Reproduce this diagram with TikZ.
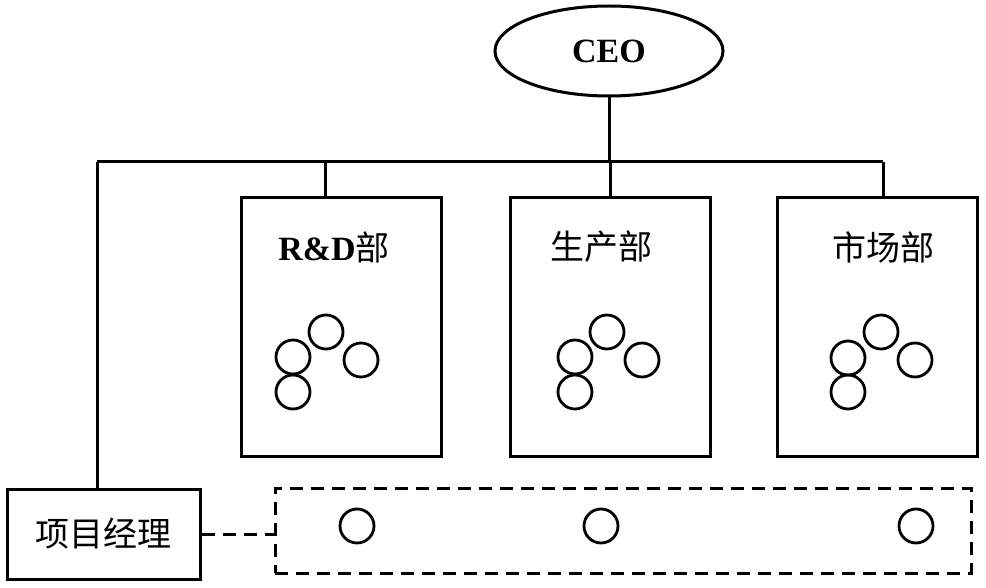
\documentclass[tikz,border=0pt]{standalone}
\usepackage{fontspec}
\setmainfont{Liberation Serif}
\newfontfamily\cjk{Noto Sans CJK SC}
\usetikzlibrary{shapes.geometric}
\tikzset{
  line/.style={line width=3pt},
  dept/.style={draw, line width=3pt, rectangle, minimum width=200pt, minimum height=258pt, inner sep=0pt},
  title/.style={font=\fontsize{34pt}{40pt}\selectfont, inner sep=0pt},
  member/.style={draw, circle, line width=2.8pt, minimum size=34pt, inner sep=0pt},
  dashline/.style={line width=3pt, dash pattern=on 13pt off 8pt},
}
\begin{document}
\begin{tikzpicture}[x=1pt, y=-1pt]
\useasboundingbox (0,0) rectangle (986,588);
% CEO
\node[draw, ellipse, line width=3pt, minimum width=228pt, minimum height=90pt, inner sep=0pt,
      font=\fontsize{34pt}{40pt}\selectfont\bfseries] (ceo) at (609,51) {CEO};
% departments
\node[dept] (rd) at (341,327) {};
\node[dept] (prod) at (610,327) {};
\node[dept] (mkt) at (877,327) {};
\node[title] (rdt) at (334,247) {\bfseries R\&D{\mdseries\cjk 部}};
\node[title] (prodt) at (601,247) {\cjk 生产部};
\node[title] (mktt) at (883,247) {\cjk 市场部};
% members R&D
\node[member] (r1) at (326,332) {};
\node[member] (r2) at (293,357) {};
\node[member] (r3) at (361,360) {};
\node[member] (r4) at (293,392) {};
% members production
\node[member] (p1) at (607,332) {};
\node[member] (p2) at (575,357) {};
\node[member] (p3) at (642,360) {};
\node[member] (p4) at (575,392) {};
% members marketing
\node[member] (m1) at (881,332) {};
\node[member] (m2) at (848,358) {};
\node[member] (m3) at (915,360) {};
\node[member] (m4) at (848,392) {};
% project manager
\node[draw, line width=3pt, rectangle, minimum width=193pt, minimum height=90pt, inner sep=0pt,
      font=\fontsize{34pt}{40pt}\selectfont\cjk] (pm) at (103.5,534) {项目经理};
% project team
\node[draw, dashline, rectangle, minimum width=696pt, minimum height=85pt, inner sep=0pt] (team) at (623,530.5) {};
\node[member] (t1) at (357,526) {};
\node[member] (t2) at (601,526) {};
\node[member] (t3) at (916,526) {};
% connectors
\coordinate (busL) at (97,162);
\coordinate (busR) at (883,162);
\coordinate (d1) at (325,162);
\draw[line] (busL) -- (busR);
\draw[line] (ceo.south) -- (ceo.south |- busL);
\draw[line] (d1) -- (d1 |- rd.north);
\draw[line] (prod.north |- busL) -- (prod.north);
\draw[line] (busR) -- (busR |- mkt.north);
\draw[line] (busL) -- (busL |- pm.north);
\draw[dashline] (pm.east) -- (pm.east -| team.west);
\end{tikzpicture}
\end{document}
